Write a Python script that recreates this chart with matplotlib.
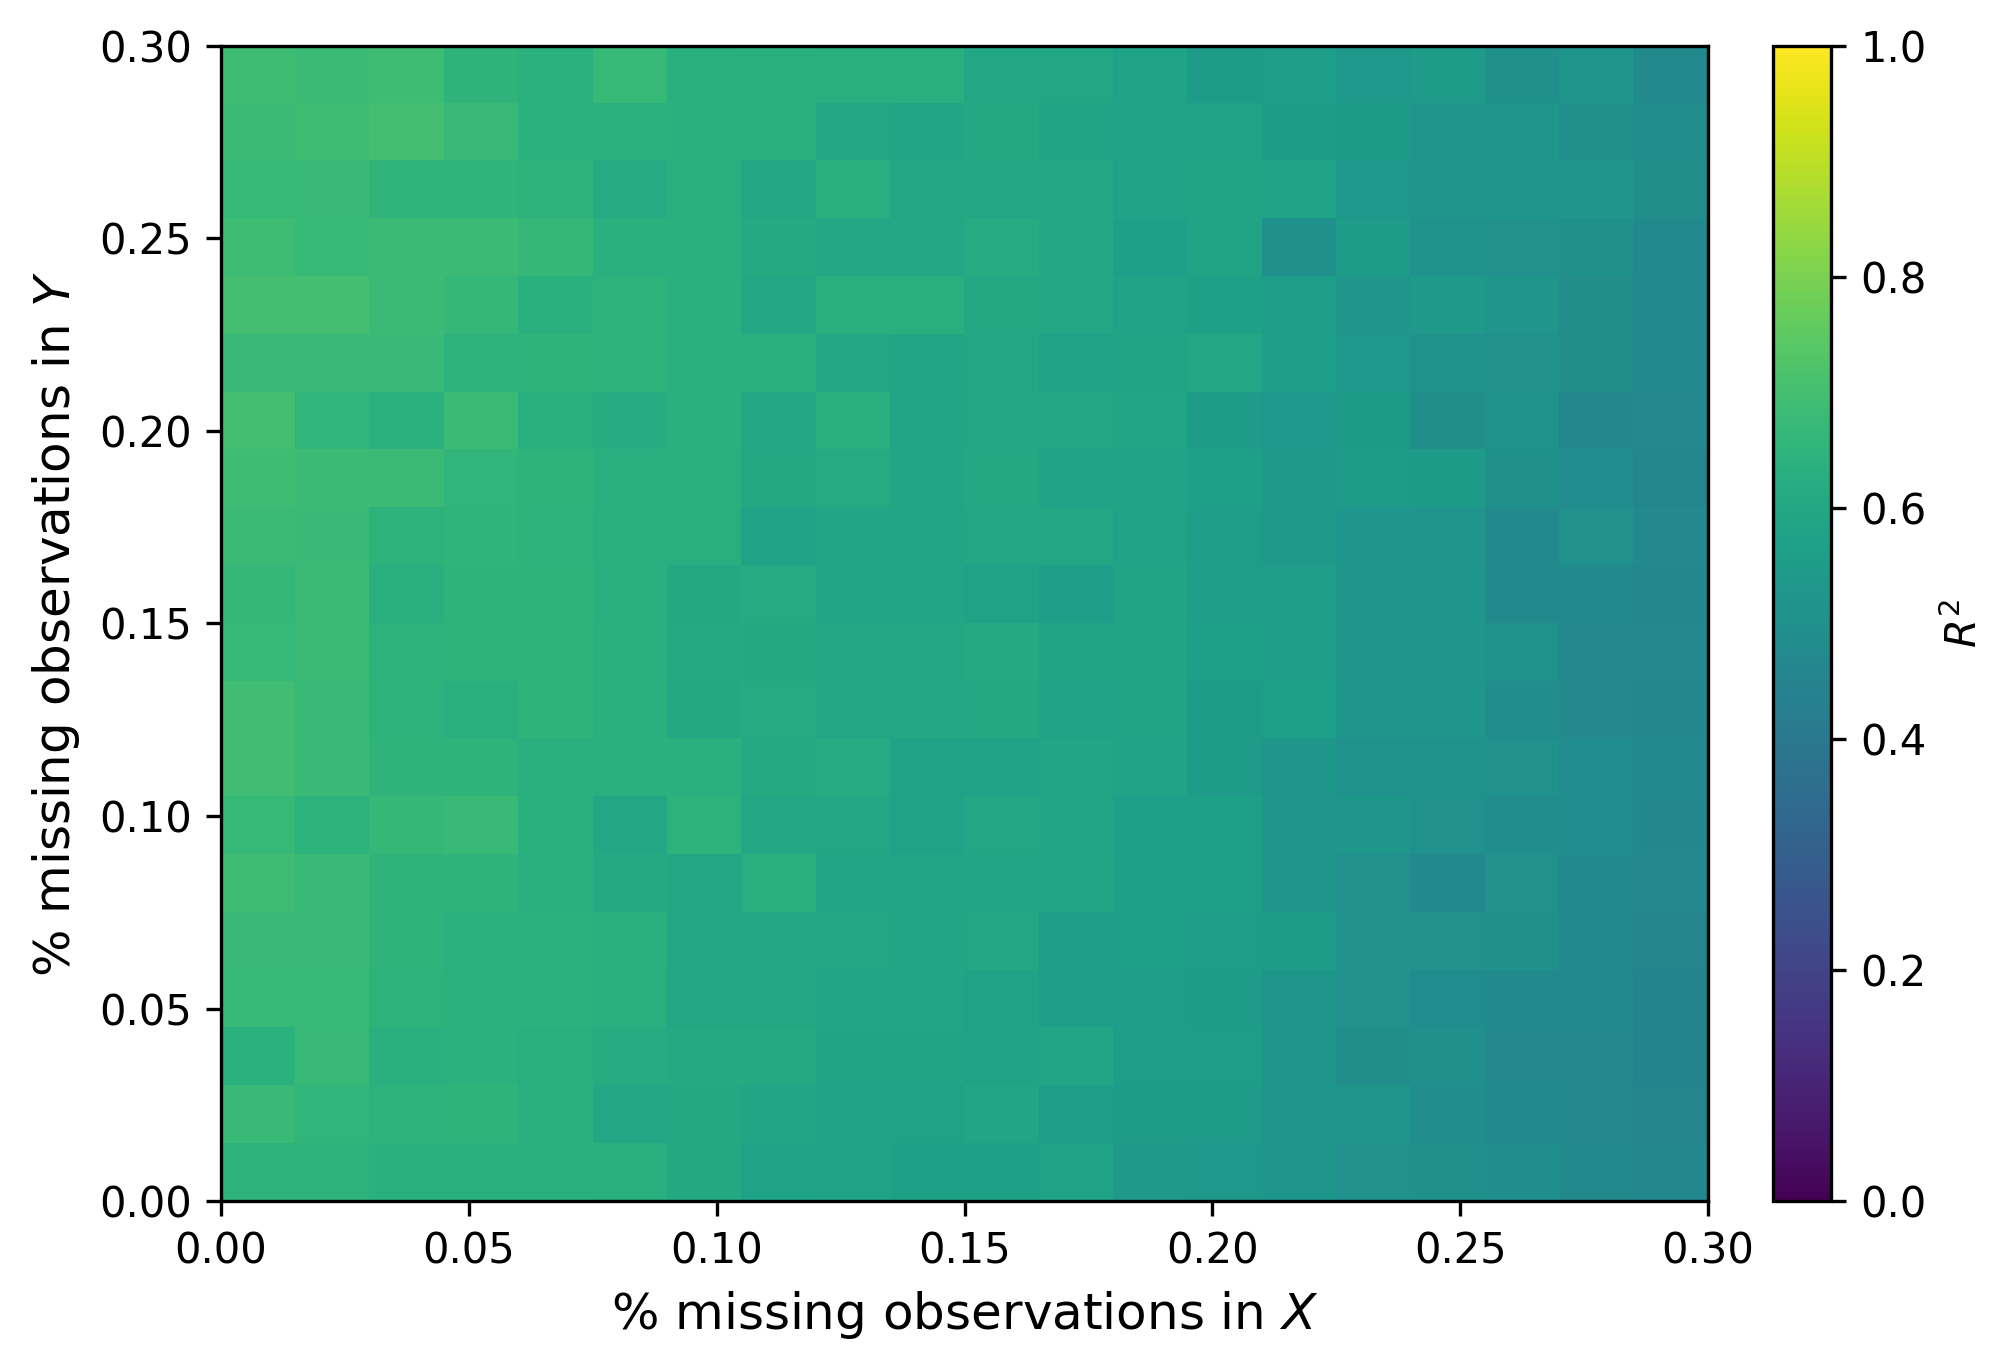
import matplotlib
matplotlib.use('Agg')
import matplotlib.pyplot as plt
import numpy as np

# R^2, first row is the top one (0.285-0.30 missing in Y)
row_01 = [.69, .68, .69, .65, .64, .67, .625, .635, .625, .625, .60, .60, .58, .55, .56, .535, .55, .50, .52, .475]
row_02 = [.68, .69, .70, .675, .64, .64, .635, .635, .595, .59, .605, .585, .575, .58, .55, .545, .525, .52, .50, .49]
row_03 = [.67, .675, .655, .655, .645, .615, .625, .595, .625, .60, .595, .60, .58, .585, .58, .535, .53, .525, .52, .495]
row_04 = [.69, .67, .68, .68, .665, .635, .635, .61, .595, .595, .615, .60, .565, .585, .50, .55, .515, .505, .50, .48]
row_05 = [.70, .70, .68, .665, .635, .645, .635, .60, .625, .625, .605, .60, .575, .57, .56, .525, .54, .52, .495, .475]
row_06 = [.675, .675, .675, .645, .65, .645, .635, .625, .60, .59, .60, .575, .585, .60, .555, .535, .51, .505, .495, .48]
row_07 = [.70, .66, .64, .68, .63, .62, .635, .595, .635, .59, .60, .595, .59, .55, .535, .545, .495, .515, .465, .47]
row_08 = [.69, .68, .68, .66, .65, .63, .63, .605, .615, .59, .605, .575, .575, .565, .54, .55, .545, .50, .485, .46]
row_09 = [.68, .675, .645, .655, .645, .625, .625, .58, .59, .59, .60, .595, .58, .56, .54, .525, .52, .48, .505, .47]
row_10 = [.665, .68, .63, .65, .65, .63, .605, .615, .59, .59, .58, .555, .585, .56, .56, .525, .525, .48, .48, .465]
row_11 = [.67, .68, .645, .65, .65, .635, .61, .605, .60, .595, .61, .585, .585, .565, .56, .525, .53, .515, .47, .47]
row_12 = [.695, .675, .645, .63, .65, .635, .605, .615, .60, .60, .605, .575, .585, .55, .565, .525, .525, .49, .47, .465]
row_13 = [.695, .675, .65, .65, .635, .635, .635, .61, .615, .58, .58, .59, .575, .55, .53, .51, .51, .505, .485, .475]
row_14 = [.67, .645, .665, .675, .635, .60, .645, .60, .60, .575, .60, .59, .565, .565, .53, .53, .505, .49, .485, .465]
row_15 = [.69, .675, .65, .65, .625, .61, .595, .625, .59, .59, .59, .59, .57, .565, .53, .505, .48, .505, .48, .47]
row_16 = [.675, .675, .65, .64, .64, .635, .60, .60, .595, .59, .60, .56, .565, .56, .55, .505, .505, .50, .475, .455]
row_17 = [.67, .67, .645, .64, .64, .625, .60, .60, .59, .59, .58, .56, .56, .55, .53, .505, .485, .475, .475, .45]
row_18 = [.64, .675, .635, .64, .625, .62, .61, .61, .585, .585, .58, .59, .56, .56, .525, .495, .50, .47, .47, .45]
row_19 = [.675, .66, .645, .65, .63, .60, .605, .59, .58, .58, .59, .56, .55, .55, .525, .53, .49, .475, .47, .455]
row_20 = [.645, .645, .635, .635, .635, .625, .605, .58, .575, .57, .57, .575, .54, .535, .525, .505, .50, .49, .475, .465]

rows = [row_01, row_02, row_03, row_04, row_05, row_06, row_07, row_08, row_09, row_10,
        row_11, row_12, row_13, row_14, row_15, row_16, row_17, row_18, row_19, row_20]
ticks = [0.00, 0.05, 0.10, 0.15, 0.20, 0.25, 0.30]
cbar_ticks = [0.0, 0.2, 0.4, 0.6, 0.8, 1.0]

W, H = 2015, 1371
fig = plt.figure(figsize=(W / 300, H / 300), dpi=300)
ax = fig.add_axes([221 / W, 1 - 1201 / H, (1708 - 221) / W, (1201 - 46) / H])
cax = fig.add_axes([1773 / W, 1 - 1201 / H, (1831 - 1773) / W, (1201 - 46) / H])

im = ax.imshow(np.array(rows), cmap='viridis', vmin=0, vmax=1, aspect='auto',
               extent=[0, 0.3, 0, 0.3], origin='upper', interpolation='nearest')
ax.set_xticks(ticks)
ax.set_yticks(ticks)
ax.set_xticklabels(['%.2f' % t for t in ticks])
ax.set_yticklabels(['%.2f' % t for t in ticks])
ax.set_xlabel('% missing observations in $X$', fontsize=12)
ax.set_ylabel('% missing observations in $Y$', fontsize=12)

cb = fig.colorbar(im, cax=cax)
cb.set_ticks(cbar_ticks)
cb.set_label('$R^2$')

fig.savefig('out.png', dpi=300)
